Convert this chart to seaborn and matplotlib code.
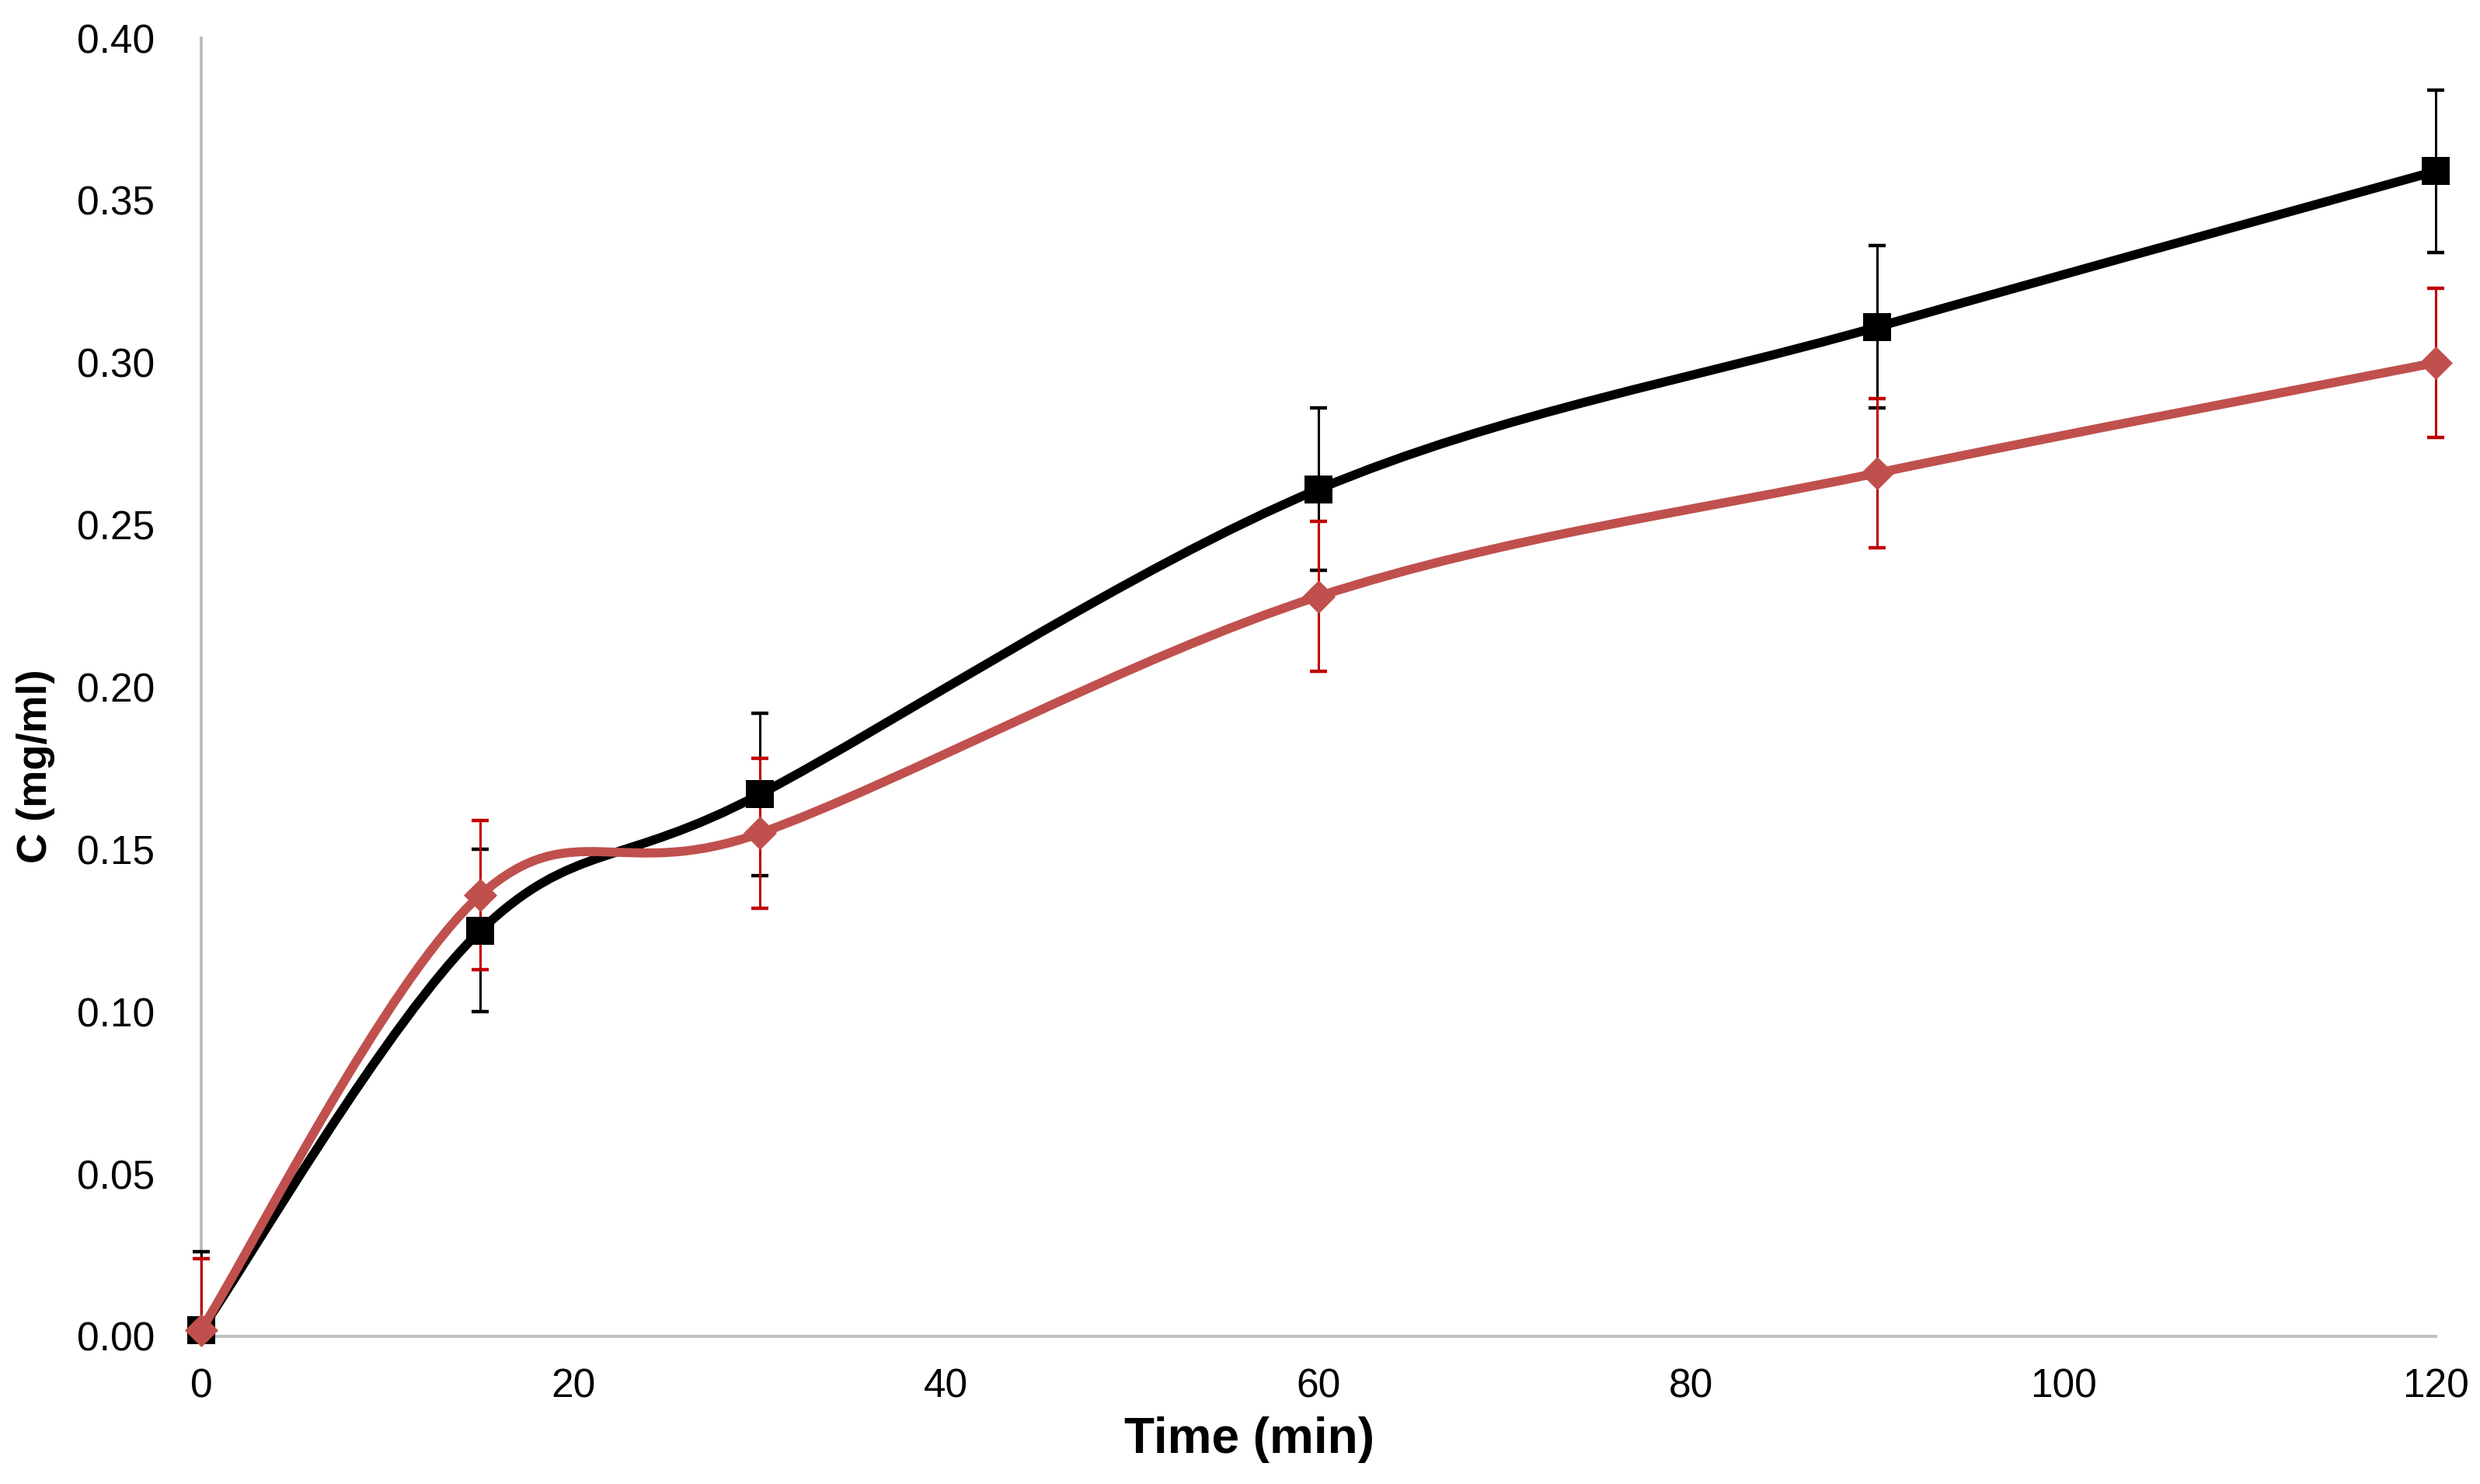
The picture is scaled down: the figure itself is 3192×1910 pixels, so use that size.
import numpy as np
import pandas as pd
import matplotlib
matplotlib.use("Agg")
import matplotlib.pyplot as plt
from matplotlib.path import Path
from matplotlib.patches import PathPatch, Rectangle
from matplotlib.ticker import FormatStrFormatter, MultipleLocator
import seaborn as sns

# values
times = [0, 15, 30, 60, 90, 120]
black_conc = [0.002, 0.125, 0.167, 0.261, 0.311, 0.359]
black_err = [0.024, 0.025, 0.025, 0.025, 0.025, 0.025]
red_conc = [0.002, 0.136, 0.155, 0.228, 0.266, 0.300]
red_err = [0.022, 0.023, 0.023, 0.023, 0.023, 0.023]

BLACK = "#000000"
RED_LINE = "#C0504D"
RED_ERR = "#C00000"
GREY = "#BFBFBF"


def smooth_path(xs, ys):
    """Excel-like smoothed line: cubic Bezier through the points."""
    pts = np.column_stack([xs, ys]).astype(float)
    n = len(pts)
    verts = [pts[0]]
    codes = [Path.MOVETO]
    for i in range(n - 1):
        p0 = pts[i - 1] if i > 0 else pts[i]
        p1 = pts[i]
        p2 = pts[i + 1]
        p3 = pts[i + 2] if i + 2 < n else pts[i + 1]
        verts += [p1 + (p2 - p0) / 6, p2 - (p3 - p1) / 6, p2]
        codes += [Path.CURVE4] * 3
    return Path(verts, codes)


df = pd.DataFrame({
    "time": times * 2,
    "conc": black_conc + red_conc,
    "err": black_err + red_err,
    "series": ["black"] * len(times) + ["red"] * len(times),
})

sns.set_theme(style="white")
plt.rcParams["font.family"] = ["Liberation Sans", "DejaVu Sans"]

fig = plt.figure(figsize=(15.96, 9.55), dpi=200)
ax = fig.add_axes([0.0811, 0.0995, 0.9011, 0.8748])

# clip region that lets the first point spill left but not below the axis
clip = Rectangle((-0.05, 0), 1.1, 1.1, transform=ax.transAxes, facecolor="none")

# error bars sit above the grey spine, below the curves
for name, color, z in [("black", BLACK, 2.6), ("red", RED_ERR, 2.7)]:
    sub = df[df["series"] == name]
    eb = ax.errorbar(sub["time"], sub["conc"], yerr=sub["err"], fmt="none",
                     ecolor=color, elinewidth=1.1, capsize=4, capthick=1.6,
                     zorder=z)
    for art in list(eb.lines[1]) + list(eb.lines[2]):
        art.set_clip_path(clip)

for name, color, marker, size, z in [("black", BLACK, "s", 170, 3.0),
                                     ("red", RED_LINE, "D", 120, 3.2)]:
    sub = df[df["series"] == name]
    ax.add_patch(PathPatch(smooth_path(sub["time"], sub["conc"]),
                           facecolor="none", edgecolor=color, linewidth=4.2,
                           capstyle="round", joinstyle="round", zorder=z))
    sns.scatterplot(data=sub, x="time", y="conc", color=color, marker=marker,
                    s=size, linewidth=0, legend=False, ax=ax, zorder=z + 0.05,
                    clip_on=False)

ax.set_xlim(0, 120)
ax.set_ylim(0, 0.40)
ax.xaxis.set_major_locator(MultipleLocator(20))
ax.yaxis.set_major_locator(MultipleLocator(0.05))
ax.yaxis.set_major_formatter(FormatStrFormatter("%.2f"))

for side in ["top", "right"]:
    ax.spines[side].set_visible(False)
for side in ["left", "bottom"]:
    ax.spines[side].set_color(GREY)
    ax.spines[side].set_linewidth(1.4)

ax.tick_params(axis="both", which="major", direction="out", color=GREY,
               width=1.4, labelsize=18.5, labelcolor="black")
ax.tick_params(axis="x", length=4.5, pad=10)
ax.tick_params(axis="y", length=5.5, pad=16)

ax.set_xlabel("Time (min)", fontsize=23, fontweight="bold", color="black")
ax.set_ylabel("C (mg/ml)", fontsize=19.5, fontweight="bold", color="black")
ax.xaxis.set_label_coords(0.469, -0.0616)
ax.yaxis.set_label_coords(-0.0654, 0.439)

fig.savefig("out.png", dpi=200)
